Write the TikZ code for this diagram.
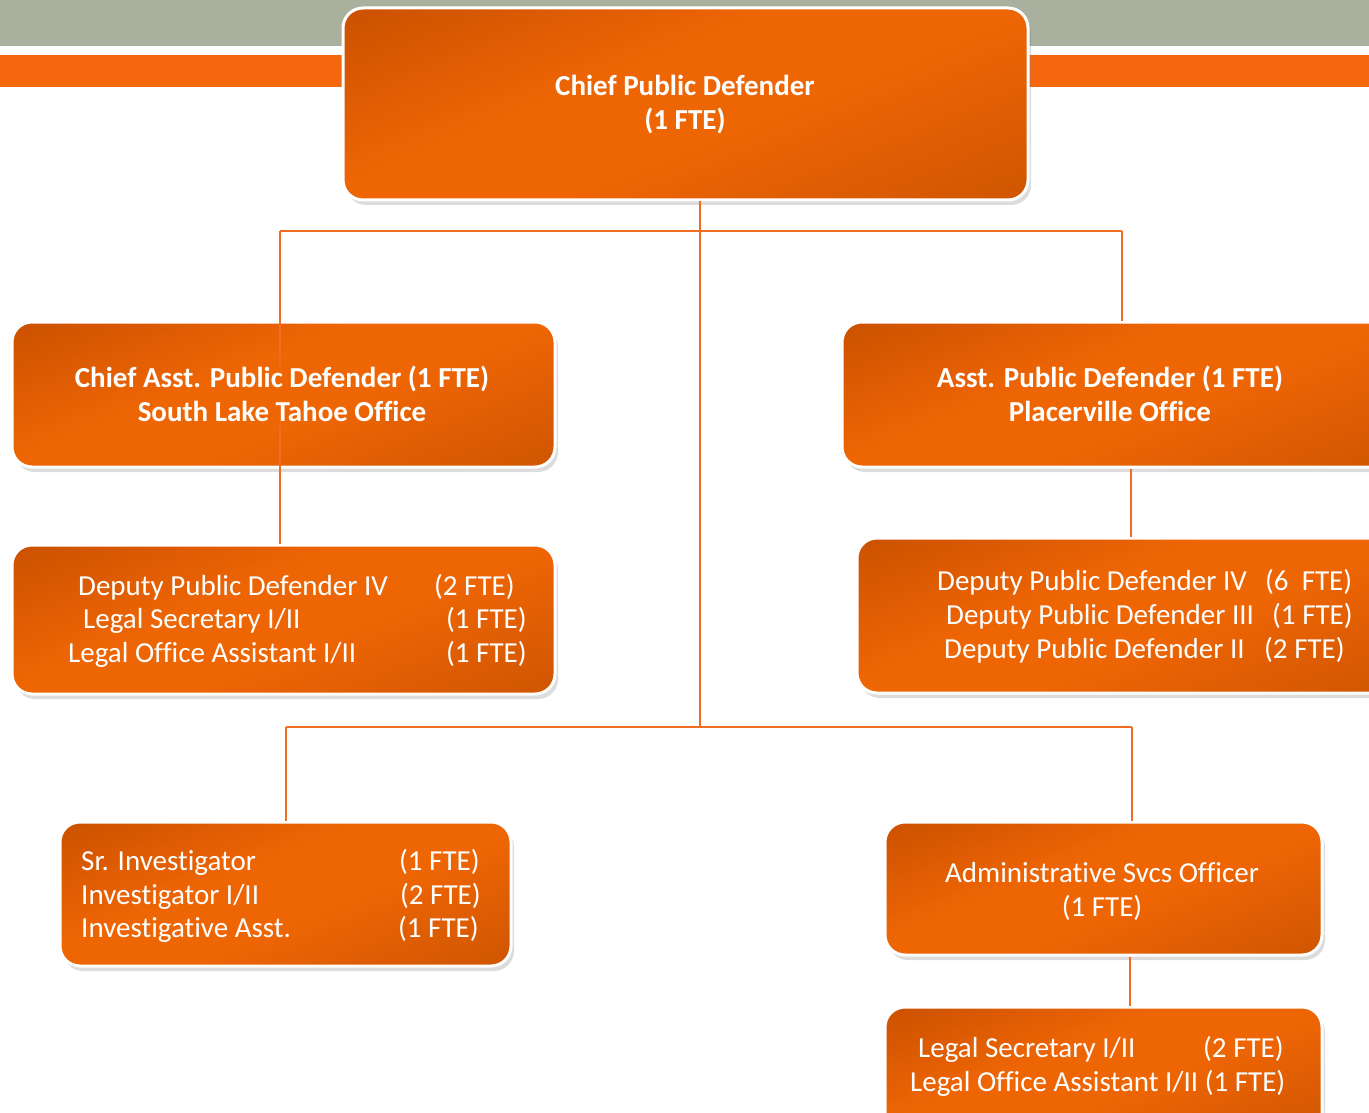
\documentclass[tikz,border=0pt]{standalone}
\usepackage{fontspec}
\setmainfont{Carlito}[Ligatures=NoCommon]
\usetikzlibrary{shadows}
\definecolor{bandgray}{RGB}{170,176,158}
\definecolor{bandorange}{RGB}{245,103,12}
\definecolor{ordark}{RGB}{198,78,0}
\definecolor{orlight}{RGB}{238,101,4}
\definecolor{ordark2}{RGB}{208,86,2}
\definecolor{linecol}{RGB}{240,110,30}
\pgfdeclareverticalshading{orshade}{100bp}{color(0bp)=(ordark2); color(18bp)=(ordark2); color(44bp)=(orlight); color(58bp)=(orlight); color(86bp)=(ordark); color(100bp)=(ordark)}
\tikzset{
  orbox/.style={rectangle, rounded corners=20pt, draw=white, line width=3pt,
    shading=orshade, shading angle=22,
    drop shadow={opacity=0.28, shadow xshift=3pt, shadow yshift=-5pt},
    inner sep=0pt},
  boxtext/.style={text=white, font=\fontsize{29}{34}\selectfont, inner sep=0pt, align=center},
  titletext/.style={text=white, font=\bfseries\fontsize{29}{34}\selectfont, inner sep=0pt, align=center},
  rowtext/.style={text=white, font=\fontsize{29}{34}\selectfont, inner sep=0pt, anchor=base west},
  conn/.style={draw=linecol, line width=1.6pt}
}
\begin{document}
\begin{tikzpicture}[x=1pt,y=-1pt]
\useasboundingbox (0,0) rectangle (1369,1113);
\clip (0,0) rectangle (1369,1113);
% header bands
\fill[bandgray] (0,0) rectangle (1369,46);
\fill[bandorange] (0,55) rectangle (1369,87);
% junction coordinates
\coordinate (j0) at (700,231);
\coordinate (j1) at (700,727);
\coordinate (hL) at (280,231);
\coordinate (hR) at (1122,231);
\coordinate (lL) at (286,727);
\coordinate (lR) at (1132,727);
\coordinate (bd) at (1131,500);
\coordinate (fg) at (1130,980);
% boxes
\node[orbox, minimum width=685pt, minimum height=192pt] (T) at (685.5,104) {};
\node[orbox, minimum width=543pt, minimum height=145pt] (A) at (283.5,394.5) {};
\node[orbox, minimum width=560pt, minimum height=145pt] (B) at (1122,394.5) {};
\node[orbox, minimum width=543pt, minimum height=149pt] (C) at (283.5,619.5) {};
\node[orbox, minimum width=545pt, minimum height=155pt] (D) at (1129.5,615.5) {};
\node[orbox, minimum width=451pt, minimum height=144pt] (E) at (285.5,894) {};
\node[orbox, minimum width=437pt, minimum height=133pt] (F) at (1103.5,888.5) {};
\node[orbox, minimum width=437pt, minimum height=128pt] (G) at (1103.5,1071) {};
% texts
\node[titletext] (Tt) at (685,105) {Chief Public Defender\\(1 FTE)};
\node[titletext] (At) at (282,394) {Chief Asst. Public Defender (1 FTE)\\South Lake Tahoe Office};
\node[titletext] (Bt) at (1110,394) {Asst. Public Defender (1 FTE)\\Placerville Office};
\node[boxtext] (Ft) at (1102,891) {Administrative Svcs Officer\\(1 FTE)};
% box C rows
\node[rowtext] (c1) at (78,595) {Deputy Public Defender IV};
\node[rowtext] (c1r) at (434,595) {(2 FTE)};
\node[rowtext] (c2) at (83,628) {Legal Secretary I/II};
\node[rowtext] (c2r) at (446,628) {(1 FTE)};
\node[rowtext] (c3) at (68,662) {Legal Office Assistant I/II};
\node[rowtext] (c3r) at (446,662) {(1 FTE)};
% box D rows
\node[rowtext] (d1) at (937,590) {Deputy Public Defender IV};
\node[rowtext] (d1r) at (1265,590) {(6\ \ FTE)};
\node[rowtext] (d2) at (946,624) {Deputy Public Defender III};
\node[rowtext] (d2r) at (1272,624) {(1 FTE)};
\node[rowtext] (d3) at (944,658) {Deputy Public Defender II};
\node[rowtext] (d3r) at (1264,658) {(2 FTE)};
% box E rows
\node[rowtext] (e1) at (81,870) {Sr. Investigator};
\node[rowtext] (e1r) at (399,870) {(1 FTE)};
\node[rowtext] (e2) at (81,904) {Investigator I/II};
\node[rowtext] (e2r) at (400,904) {(2 FTE)};
\node[rowtext] (e3) at (81,937) {Investigative Asst.};
\node[rowtext] (e3r) at (398,937) {(1 FTE)};
% box G rows
\node[rowtext] (g1) at (918,1057) {Legal Secretary I/II};
\node[rowtext] (g1r) at (1203,1057) {(2 FTE)};
\node[rowtext] (g2) at (910,1091) {Legal Office Assistant I/II (1 FTE)};
% connectors
\draw[conn] (j0 |- T.south) -- (j1);
\draw[conn] (hL) -- (hR);
\draw[conn] (hL) -- (hL |- At.north);
\draw[conn] (hL |- At.south) -- (hL |- C.north);
\draw[conn] (hR) -- (hR |- B.north);
\draw[conn] (bd |- B.south) -- (bd |- D.north);
\draw[conn] (lL) -- (lR);
\draw[conn] (lL) -- (lL |- E.north);
\draw[conn] (lR) -- (lR |- F.north);
\draw[conn] (fg |- F.south) -- (fg |- G.north);
\end{tikzpicture}
\end{document}
